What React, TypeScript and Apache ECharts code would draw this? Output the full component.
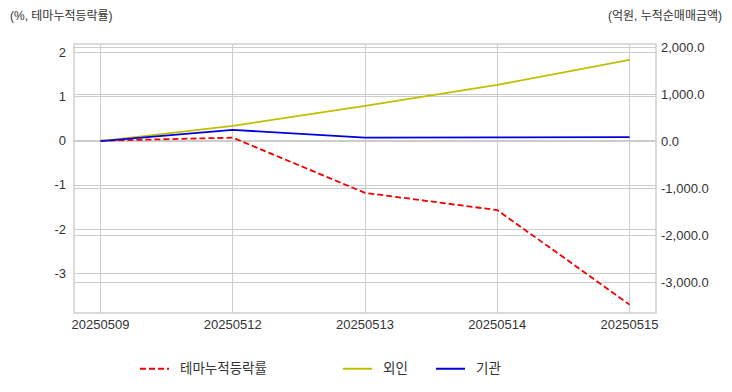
import React, { useEffect, useRef } from 'react';
import * as echarts from 'echarts';

const dates = ['20250509', '20250512', '20250513', '20250514', '20250515'];
const themeReturn = [0, 0.07, -1.18, -1.57, -3.71];
const foreign = [0, 325, 751, 1198, 1730];
const institution = [0, 240, 77, 80, 85];
const leftTicks = [-3, -2, -1, 0, 1, 2];
const rightTicks = [-3000, -2000, -1000, 0, 1000, 2000];
const seriesNames = ['테마누적등락률', '외인', '기관'];

const FONT = "'Liberation Sans', 'Noto Sans CJK KR', sans-serif";
const TXT = '#333333';
const GRIDC = '#cccccc';

export default function App() {
  const ref = useRef<HTMLDivElement>(null);
  useEffect(() => {
    if (!ref.current) return;
    const chart = echarts.init(ref.current, undefined, { renderer: 'svg' });
    const xIdx = dates.map((_, i) => i);
    const legendBase = {
      orient: 'horizontal',
      top: 362,
      padding: 0,
      itemWidth: 29,
      itemHeight: 14,
      itemStyle: { opacity: 0 },
      textStyle: { fontFamily: FONT, fontSize: 13.5, color: TXT, padding: [0, 0, 0, 6] },
      inactiveColor: '#ccc',
    };
    chart.setOption({
      animation: false,
      backgroundColor: '#ffffff',
      textStyle: { fontFamily: FONT },
      title: [
        { text: '(%, 테마누적등락률)', left: 5, top: 5, textStyle: { fontFamily: FONT, fontSize: 12, fontWeight: 'normal', color: TXT } },
        { text: '(억원, 누적순매매금액)', right: 5, top: 5, textStyle: { fontFamily: FONT, fontSize: 12, fontWeight: 'normal', color: TXT } },
      ],
      legend: [
        { ...legendBase, left: 139, data: [seriesNames[0]] },
        { ...legendBase, left: 342, data: [seriesNames[1]] },
        { ...legendBase, left: 435, data: [seriesNames[2]] },
      ],
      grid: {
        left: 74, right: 76, top: 44, bottom: 79,
        show: true, borderColor: '#d0d0d0', borderWidth: 1.5, backgroundColor: 'transparent',
      },
      xAxis: {
        type: 'value',
        min: -0.2,
        max: 4.2,
        axisLine: { show: false },
        axisTick: { show: false, customValues: xIdx },
        axisLabel: {
          customValues: xIdx,
          formatter: (v: number) => dates[Math.round(v)] ?? '',
          fontFamily: FONT, fontSize: 13, color: TXT, margin: 5,
        },
        splitLine: { show: true, lineStyle: { color: GRIDC, width: 1 } },
      },
      yAxis: [
        {
          type: 'value',
          min: -3.9,
          max: 2.19,
          axisLine: { show: false },
          axisTick: { show: false, customValues: leftTicks },
          axisLabel: { customValues: leftTicks, fontFamily: FONT, fontSize: 13, color: TXT, margin: 8 },
          splitLine: { show: true, lineStyle: { color: GRIDC, width: 1 } },
        },
        {
          type: 'value',
          min: -3660,
          max: 2070,
          position: 'right',
          axisLine: { show: false },
          axisTick: { show: false, customValues: rightTicks },
          axisLabel: {
            customValues: rightTicks,
            formatter: (v: number) => v.toLocaleString('en-US', { minimumFractionDigits: 1, maximumFractionDigits: 1 }),
            fontFamily: FONT, fontSize: 13, color: TXT, margin: 5,
          },
          splitLine: { show: true, lineStyle: { color: GRIDC, width: 1 } },
        },
      ],
      series: [
        {
          name: seriesNames[0], type: 'line', yAxisIndex: 0, symbol: 'none',
          data: themeReturn.map((v, i) => [i, v]),
          lineStyle: { color: '#ee0000', width: 1.8, type: [6, 3] },
          itemStyle: { color: '#ee0000' },
        },
        {
          name: seriesNames[1], type: 'line', yAxisIndex: 1, symbol: 'none',
          data: foreign.map((v, i) => [i, v]),
          lineStyle: { color: '#bfbf00', width: 1.8 },
          itemStyle: { color: '#bfbf00' },
        },
        {
          name: seriesNames[2], type: 'line', yAxisIndex: 1, symbol: 'none',
          data: institution.map((v, i) => [i, v]),
          lineStyle: { color: '#0000dd', width: 1.8 },
          itemStyle: { color: '#0000dd' },
        },
      ],
    });
    return () => chart.dispose();
  }, []);
  return <div ref={ref} style={{ position: 'fixed', left: 0, top: 0, width: 732, height: 392 }} />;
}
